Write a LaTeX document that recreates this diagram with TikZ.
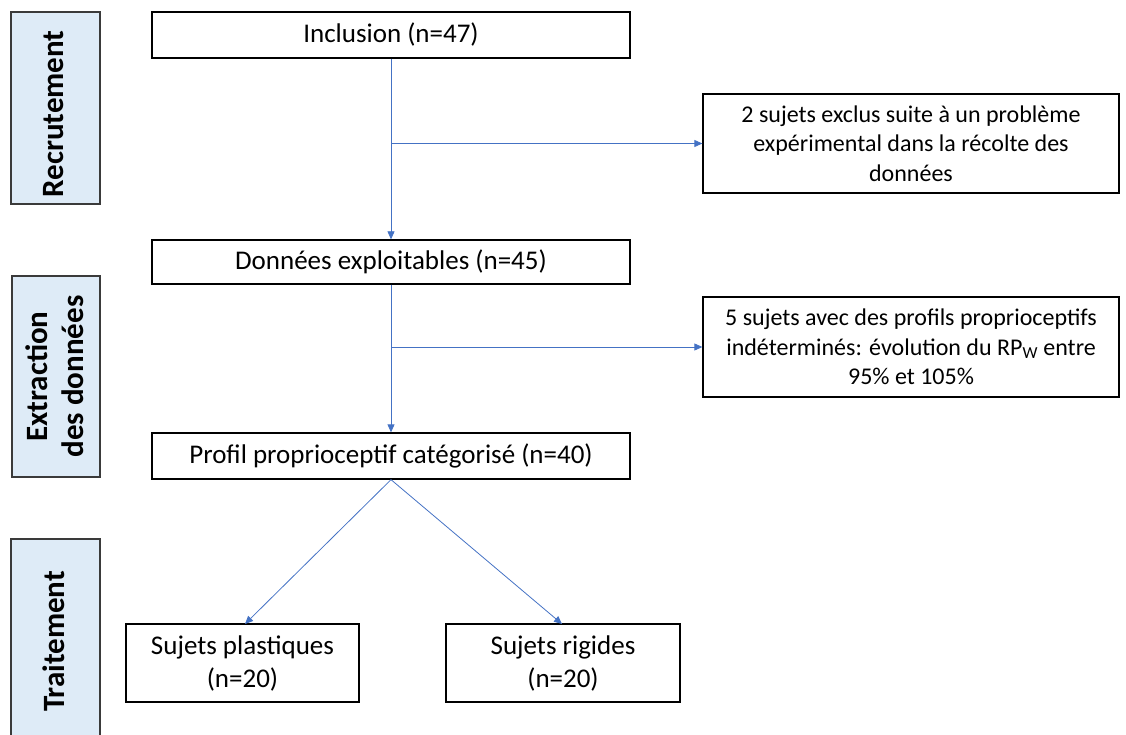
\documentclass[tikz,border=0pt]{standalone}
\usepackage{fontspec}
\setmainfont{Carlito}
\usetikzlibrary{arrows.meta}
\definecolor{lineblue}{HTML}{4472C4}
\definecolor{sidefill}{HTML}{DEEBF7}
\definecolor{sidedraw}{HTML}{3A3A3A}
\tikzset{
  mainbox/.style={draw=black, line width=1.3pt, fill=white, inner sep=0pt, align=center,
    font=\fontsize{27}{33}\selectfont},
  notebox/.style={draw=black, line width=1.3pt, fill=white, inner sep=0pt, align=center,
    font=\fontsize{24}{29.5}\selectfont},
  sidebox/.style={draw=sidedraw, line width=1.3pt, fill=sidefill, inner sep=0pt},
  sidelabel/.style={rotate=90, align=center, font=\bfseries\fontsize{31}{36}\selectfont},
  arr/.style={draw=lineblue, line width=0.8pt, -{Triangle[length=8pt,width=7pt]}}
}
\begin{document}
\begin{tikzpicture}[x=1pt,y=-1pt]
\useasboundingbox (0,0) rectangle (1126,735);
% left phase boxes
\node[sidebox, minimum width=89, minimum height=192] (recbox) at (55.5,108) {};
\node[sidelabel] (rec) at (54,114) {Recrutement};
\node[sidebox, minimum width=88, minimum height=201] (extbox) at (56,376.5) {};
\node[sidelabel] (ext) at (55,376.5) {Extraction\\des données};
\node[sidebox, minimum width=89, minimum height=206] (trtbox) at (55.5,642) {};
\node[sidelabel] (trt) at (54,641.5) {Traitement};
% main flow
\node[mainbox, minimum width=478, minimum height=46] (incl) at (391,35) {Inclusion (n=47)};
\node[mainbox, minimum width=478, minimum height=44] (donn) at (391,262) {Données exploitables (n=45)};
\node[mainbox, minimum width=478, minimum height=46] (prof) at (391,456) {Profil proprioceptif catégorisé (n=40)};
\node[mainbox, minimum width=233, minimum height=78] (plas) at (242.5,663) {Sujets plastiques\\(n=20)};
\node[mainbox, minimum width=234, minimum height=78] (rigi) at (563,663) {Sujets rigides\\(n=20)};
\node[notebox, minimum width=416, minimum height=99] (excl) at (911,143.5) {2 sujets exclus suite à un problème\\expérimental dans la récolte des\\données};
\node[notebox, minimum width=416, minimum height=100] (indet) at (911,347) {5 sujets avec des profils proprioceptifs\\indéterminés: évolution du RP\textsubscript{W} entre\\95\% et 105\%};
% connectors
\draw[arr] (incl.south) -- (donn.north);
\coordinate (b1) at (391,143.5);
\draw[arr] (b1) -- (excl.west);
\draw[arr] (donn.south) -- (prof.north);
\coordinate (b2) at (391,347);
\draw[arr] (b2) -- (indet.west);
\draw[arr] (prof.south) -- (245,624);
\draw[arr] (prof.south) -- (562,624);
\end{tikzpicture}
\end{document}
